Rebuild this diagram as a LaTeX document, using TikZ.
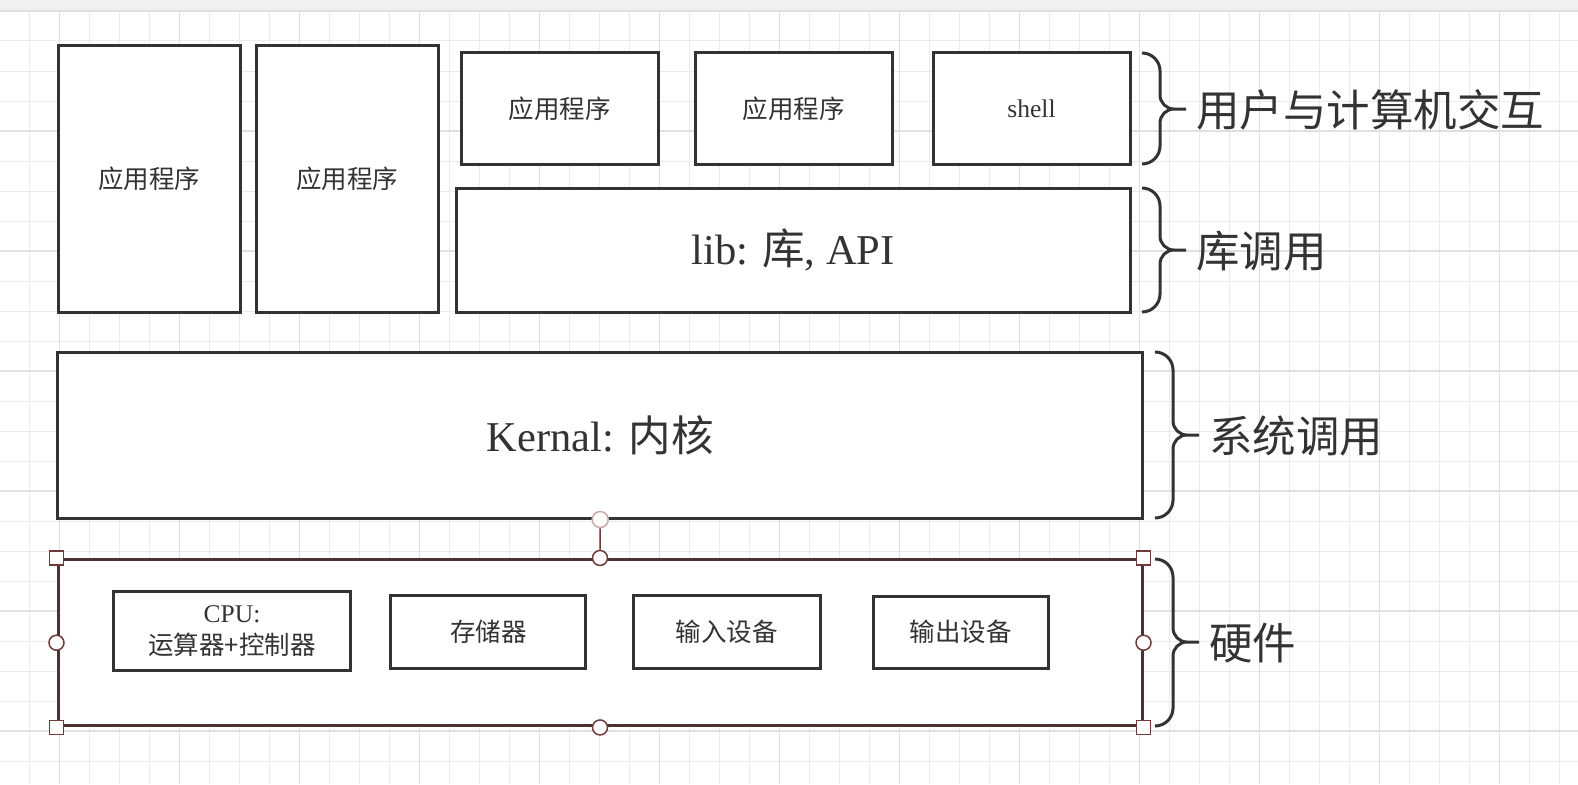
\documentclass[tikz,border=0pt]{standalone}
\usepackage{fontspec}
\setmainfont{Liberation Serif}
\newfontfamily\cjk{Noto Sans CJK SC}
\definecolor{ink}{HTML}{333333}
\definecolor{selbrown}{HTML}{6E3A3A}
\definecolor{hwline}{HTML}{4B3232}
\definecolor{selpale}{HTML}{C9A9A9}
\newcommand{\txtS}{\fontsize{25.5}{31.6}\selectfont}
\newcommand{\txtL}{\fontsize{42.5}{50}\selectfont}
\newcommand{\txtB}{\fontsize{43.5}{50}\selectfont}
\tikzset{
  box/.style={draw=ink, line width=3pt, fill=white, inner sep=0pt, text=ink, font=\txtS},
  brace/.style={draw=ink, line width=3pt},
  lbl/.style={inner sep=0pt, text=ink, font=\txtB\cjk, anchor=west},
  gridminor/.style={draw=black!8, line width=1pt},
  gridmajor/.style={draw=black!12, line width=1.2pt},
  hsquare/.style={draw=selbrown, fill=white, line width=1.5pt, minimum size=14pt, inner sep=0pt},
  hcircle/.style={draw=selbrown, fill=white, line width=1.5pt, circle, minimum size=15pt, inner sep=0pt},
}
\begin{document}
\begin{tikzpicture}[x=1pt,y=-1pt]
\useasboundingbox (0,0) rectangle (1578,784);
\fill[white] (0,0) rectangle (1578,784);
% grid paper
\fill[black!6] (0,0) rectangle (1578,10);
\foreach \i in {0,...,51} \draw[gridminor] (29.3+30*\i,11) -- (29.3+30*\i,784);
\foreach \j in {0,...,25} \draw[gridminor] (0,11+30*\j) -- (1578,11+30*\j);
\foreach \i in {0,...,12} \draw[gridmajor] (59.3+120*\i,11) -- (59.3+120*\i,784);
\foreach \j in {0,...,6} \draw[gridmajor] (0,11+120*\j) -- (1578,11+120*\j);

\node[box, minimum width=182pt, minimum height=266pt] (app1) at (149,179) {\cjk 应用程序};
\node[box, minimum width=182pt, minimum height=266pt] (app2) at (347,179) {\cjk 应用程序};
\node[box, minimum width=197pt, minimum height=111pt] (app3) at (559.5,108.5) {\cjk 应用程序};
\node[box, minimum width=197pt, minimum height=111pt] (app4) at (793.7,108.5) {\cjk 应用程序};
\node[box, minimum width=197pt, minimum height=111pt] (shell) at (1031.5,108.5) {shell};
\node[box, minimum width=674pt, minimum height=124pt, font=\txtL] (lib) at (793,250) {lib: {\cjk 库}, API};
\node[box, minimum width=1084.5pt, minimum height=166pt, font=\txtL] (kernel) at (600.2,435) {Kernal: {\cjk 内核}};

\node[box, draw=hwline, minimum width=1084pt, minimum height=166.5pt] (hw) at (600,642.7) {};
\node[box, minimum width=237pt, minimum height=79pt, align=center] (cpu) at (232,631.2) {CPU:\\{\cjk 运算器+控制器}};
\node[box, minimum width=195pt, minimum height=72.6pt] (mem) at (488.3,632) {\cjk 存储器};
\node[box, minimum width=187pt, minimum height=72.6pt] (inp) at (726.7,632) {\cjk 输入设备};
\node[box, minimum width=175pt, minimum height=72pt] (outp) at (960.8,632) {\cjk 输出设备};

% braces and layer names
\foreach \bx/\ya/\ym/\yb/\nm/\txt in {1142/53/109/164/ui/用户与计算机交互,
  1142/188/250/312/libcall/库调用, 1155/352/435/518/syscall/系统调用,
  1155/559/642/726/hwlbl/硬件}{
  \draw[brace] (\bx,\ya) to[out=0,in=90] (\bx+18,\ya+18) -- (\bx+18,\ym-14)
    to[out=-90,in=180] (\bx+32,\ym) -- (\bx+44,\ym) -- (\bx+32,\ym)
    to[out=180,in=90] (\bx+18,\ym+14)
    -- (\bx+18,\yb-18) to[out=-90,in=0] (\bx,\yb);
  \node[lbl] (\nm) at (\bx+54,\ym+1) {\txt};
}

% selection handles on the hardware box
\node[hcircle, draw=selpale, minimum size=16pt] (kdot) at (kernel.south) {};
\node[hcircle] (hn) at (hw.north) {};
\draw[selbrown, line width=1.5pt] (kdot) -- (hn);
\node[hcircle] (hs) at (hw.south) {};
\node[hcircle] (hwest) at (hw.west) {};
\node[hcircle] (heast) at (hw.east) {};
\node[hsquare] (hnw) at (hw.north west) {};
\node[hsquare] (hne) at (hw.north east) {};
\node[hsquare] (hsw) at (hw.south west) {};
\node[hsquare] (hse) at (hw.south east) {};
\end{tikzpicture}
\end{document}
